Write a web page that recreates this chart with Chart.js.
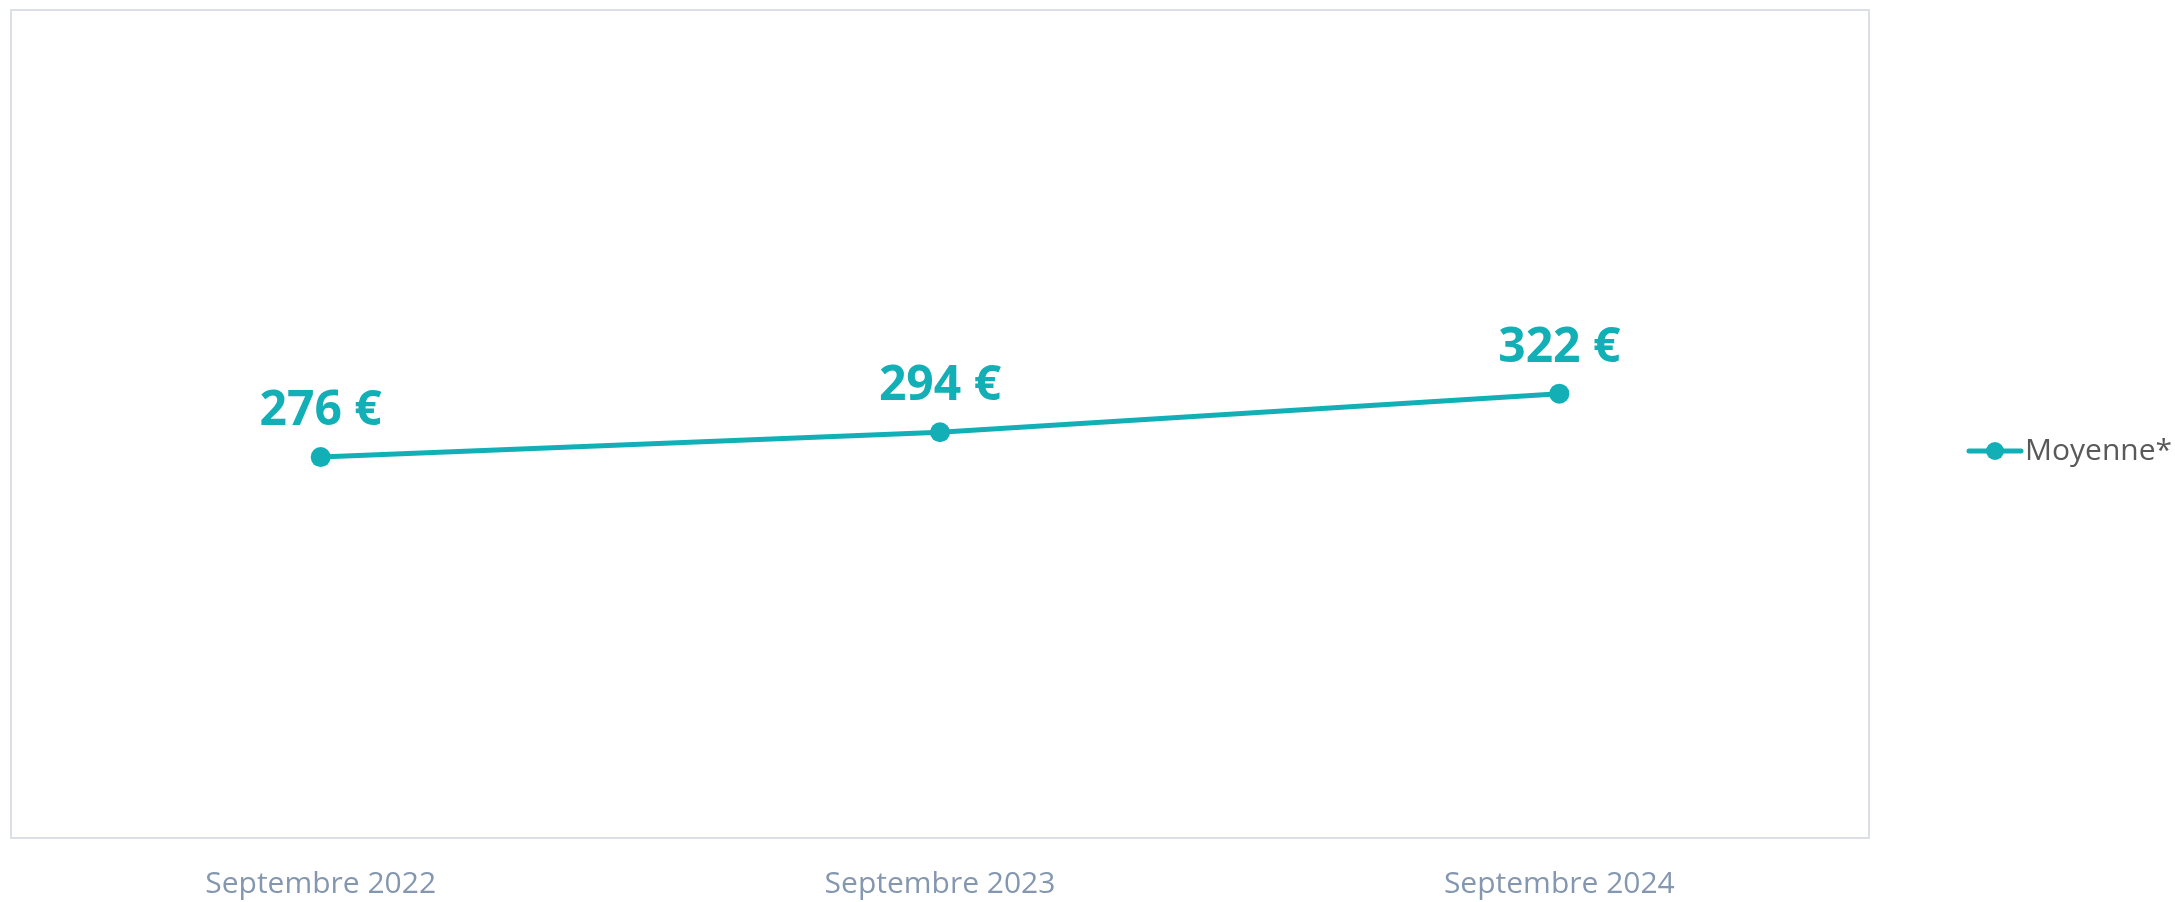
<!DOCTYPE html>
<html>
<head>
<meta charset="utf-8">
<title>Moyenne</title>
<script src="https://cdn.jsdelivr.net/npm/chart.js@4"></script>
<style>
  body { margin: 0; background: #fff; }
  #graph { display: block; }
</style>
</head>
<body>
<canvas id="graph" width="2175" height="902"></canvas>
<script>
// donnees
var mois = ['Septembre 2022', 'Septembre 2023', 'Septembre 2024'];
var moyenne = [276, 294, 322];
var nomSerie = 'Moyenne*';

var teal = '#13AFB6';
var police = '"Open Sans", "Noto Sans", sans-serif';

// marqueur de legende : trait + rond
function marqueur(){
	var c = document.createElement('canvas');
	c.width = 60;
	c.height = 24;
	var ctx = c.getContext('2d');
	ctx.strokeStyle = teal;
	ctx.lineWidth = 5;
	ctx.lineCap = 'round';
	ctx.beginPath();
	ctx.moveTo(4, 12);
	ctx.lineTo(56, 12);
	ctx.stroke();
	ctx.fillStyle = teal;
	ctx.beginPath();
	ctx.arc(30, 12, 9, 0, Math.PI * 2);
	ctx.fill();
	return c;
}

// largeur du texte de legende pour caler la zone du graphique
var mesure = document.createElement('canvas').getContext('2d');
mesure.font = '30px ' + police;
var largeurTexte = mesure.measureText(nomSerie).width;
var padLegende = 111;
var droite = Math.max(0, 140 - largeurTexte);

var cadre = {
	id: 'cadre',
	beforeDatasetsDraw: function(chart){
		var a = chart.chartArea;
		var ctx = chart.ctx;
		ctx.save();
		ctx.strokeStyle = '#dcdfe8';
		ctx.lineWidth = 2;
		ctx.strokeRect(a.left, a.top, a.right - a.left, a.bottom - a.top);
		ctx.restore();
	}
};

var etiquettes = {
	id: 'etiquettes',
	afterDatasetsDraw: function(chart){
		var ctx = chart.ctx;
		var meta = chart.getDatasetMeta(0);
		ctx.save();
		ctx.font = 'bold 48px ' + police;
		ctx.fillStyle = teal;
		ctx.textAlign = 'center';
		ctx.textBaseline = 'alphabetic';
		meta.data.forEach(function(pt, i){
			ctx.fillText(moyenne[i] + ' €', pt.x, pt.y - 32);
		});
		ctx.restore();
	}
};

var ctx = document.getElementById('graph').getContext('2d');
var myChart = new Chart(ctx, {
	type: 'line',
	data: {
		labels: mois,
		datasets: [{
			label: nomSerie,
			data: moyenne,
			borderColor: teal,
			backgroundColor: teal,
			borderWidth: 5,
			pointRadius: 10,
			pointHoverRadius: 10,
			pointBackgroundColor: teal,
			pointBorderWidth: 0,
			tension: 0
		}]
	},
	options: {
		responsive: false,
		animation: false,
		layout: { padding: { left: 11, top: 0, right: droite, bottom: 0 } },
		scales: {
			x: {
				offset: true,
				grid: { display: false, drawTicks: true, tickLength: 28 },
				border: { display: false },
				ticks: {
					padding: 10,
					color: '#8497b0',
					font: { family: police, size: 30, lineHeight: '16px' }
				}
			},
			y: {
				display: false,
				min: 0,
				max: 600
			}
		},
		plugins: {
			tooltip: { enabled: false },
			// titre vide : juste la marge du haut
			title: {
				display: true,
				text: ' ',
				padding: 0,
				font: { size: 10, lineHeight: '10px' }
			},
			legend: {
				position: 'right',
				maxWidth: 306 - droite,
				labels: {
					usePointStyle: true,
					pointStyle: marqueur(),
					pointStyleWidth: 30,
					padding: padLegende,
					color: '#595959',
					font: { family: police, size: 30 }
				}
			}
		}
	},
	plugins: [cadre, etiquettes]
});
</script>
</body>
</html>
